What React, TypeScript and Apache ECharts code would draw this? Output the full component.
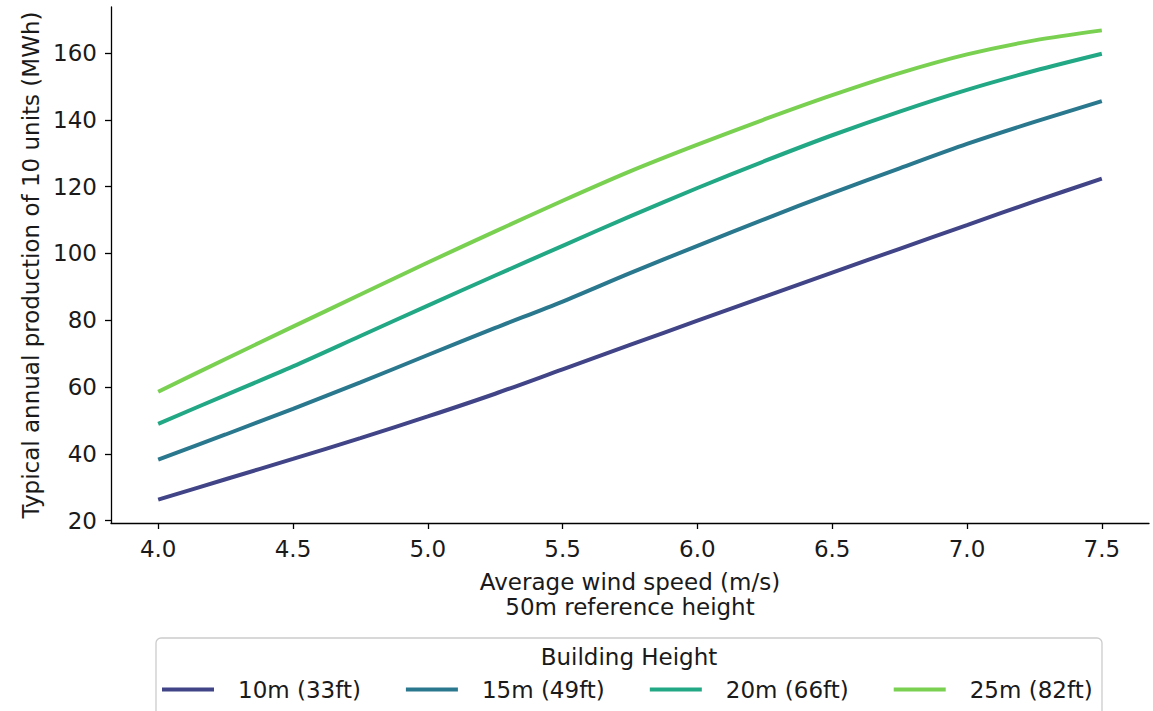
import React, { useEffect, useRef } from "react";
import * as echarts from "echarts";

const windSpeed = [4.0, 4.25, 4.5, 4.75, 5.0, 5.25, 5.5, 5.75, 6.0, 6.25, 6.5, 6.75, 7.0, 7.25, 7.5];
const h10 = [26.3, 32.4, 38.5, 44.7, 51.2, 58.0, 65.3, 72.6, 79.9, 87.1, 94.3, 101.4, 108.5, 115.6, 122.4];
const h15 = [38.3, 45.8, 53.5, 61.4, 69.6, 77.7, 85.6, 94.1, 102.3, 110.3, 118.1, 125.5, 132.8, 139.4, 145.6];
const h20 = [49.0, 57.6, 66.2, 75.3, 84.4, 93.4, 102.3, 111.1, 119.6, 127.7, 135.4, 142.5, 149.0, 154.7, 159.8];
const h25 = [58.6, 68.4, 78.1, 87.7, 97.3, 106.6, 115.8, 124.6, 132.6, 140.2, 147.4, 154.0, 159.6, 163.8, 166.8];

const seriesNames = ["10m (33ft)", "15m (49ft)", "20m (66ft)", "25m (82ft)"];
const seriesColors = ["#414487", "#2a788e", "#22a884", "#7ad151"];
const xTicks = [4.0, 4.5, 5.0, 5.5, 6.0, 6.5, 7.0, 7.5];
const yTicks = [20, 40, 60, 80, 100, 120, 140, 160];

const FONT = "DejaVu Sans";
const TXT = "#1a1a1a";
const FS = 23;

export default function App() {
  const ref = useRef<HTMLDivElement>(null);
  useEffect(() => {
    const chart = echarts.init(ref.current!, null, { renderer: "svg" });
    const all = [h10, h15, h20, h25];
    chart.setOption({
      animation: false,
      backgroundColor: "#ffffff",
      grid: { left: 111, right: 4, top: 7, bottom: 188, containLabel: false },
      xAxis: {
        type: "value",
        min: 3.825,
        max: 7.675,
        splitLine: { show: false },
        axisLine: { lineStyle: { color: "#000", width: 1.3 } },
        axisTick: { show: true, length: 6, customValues: xTicks, lineStyle: { color: "#000", width: 1.3 } },
        axisLabel: {
          customValues: xTicks,
          formatter: (v: number) => v.toFixed(1),
          fontSize: FS,
          color: TXT,
          fontFamily: FONT,
          margin: 14,
        },
        name: "Average wind speed (m/s)\n50m reference height",
        nameLocation: "middle",
        nameGap: 46,
        nameTextStyle: { fontSize: FS, lineHeight: 25, color: TXT, fontFamily: FONT },
      },
      yAxis: {
        type: "value",
        min: 19.3,
        max: 173.8,
        splitLine: { show: false },
        axisLine: { show: true, lineStyle: { color: "#000", width: 1.3 } },
        axisTick: { show: true, length: 6, customValues: yTicks, lineStyle: { color: "#000", width: 1.3 } },
        axisLabel: {
          customValues: yTicks,
          fontSize: FS,
          color: TXT,
          fontFamily: FONT,
          margin: 14,
        },
        name: "Typical annual production of 10 units (MWh)",
        nameLocation: "middle",
        nameGap: 69,
        nameTextStyle: { fontSize: FS, color: TXT, fontFamily: FONT },
      },
      legend: {
        left: 162,
        top: 678,
        padding: 0,
        itemWidth: 52,
        itemHeight: 4,
        itemGap: 45,
        icon: "rect",
        data: seriesNames,
        textStyle: { fontSize: FS, color: TXT, fontFamily: FONT, padding: [0, 0, 0, 19] },
      },
      graphic: [
        {
          type: "rect",
          z: -10,
          shape: { x: 156, y: 638, width: 946, height: 90, r: 5 },
          style: { fill: "#ffffff", stroke: "#cccccc", lineWidth: 1.3 },
        },
        {
          type: "text",
          x: 629,
          y: 657,
          style: {
            text: "Building Height",
            textAlign: "center",
            textVerticalAlign: "middle",
            fontSize: FS,
            fill: TXT,
            fontFamily: FONT,
          },
        },
      ],
      series: all.map((vals, i) => ({
        name: seriesNames[i],
        type: "line",
        smooth: 0.3,
        showSymbol: false,
        symbol: "none",
        color: seriesColors[i],
        lineStyle: { width: 4, color: seriesColors[i] },
        data: windSpeed.map((x, j) => [x, vals[j]]),
      })),
    });
    return () => chart.dispose();
  }, []);
  return (
    <div
      ref={ref}
      style={{ position: "fixed", left: 0, top: 0, width: 1153, height: 711, background: "#fff" }}
    />
  );
}
